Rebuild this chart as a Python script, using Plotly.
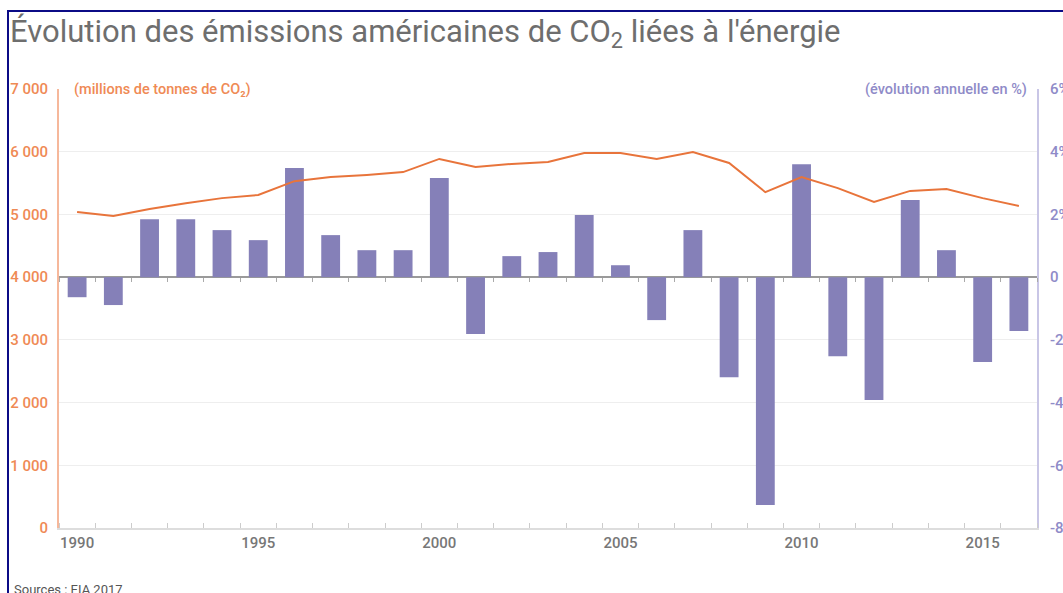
import plotly.graph_objects as go

years = list(range(1990, 2017))
emissions = [5040, 4975, 5085, 5180, 5260, 5310, 5530, 5595, 5630, 5675, 5885,
             5755, 5805, 5835, 5980, 5980, 5885, 5995, 5820, 5355, 5595, 5420,
             5200, 5375, 5405, 5260, 5135]
change_pct = [-0.64, -0.89, 1.85, 1.85, 1.50, 1.18, 3.48, 1.34, 0.86, 0.86, 3.16,
              -1.81, 0.67, 0.80, 1.98, 0.38, -1.37, 1.50, -3.19, -7.27, 3.60,
              -2.52, -3.92, 2.46, 0.86, -2.71, -1.72]
left_ticks = [0, 1000, 2000, 3000, 4000, 5000, 6000, 7000]
right_ticks = [-8, -6, -4, -2, 0, 2, 4, 6]
right_labels = ["-8%", "-6%", "-4%", "-2%", "0", "2%", "4%", "6%"]
x_labels = [1990, 1995, 2000, 2005, 2010, 2015]

W, H = 1063, 593
L, R, T, B = 59, 26, 89, 65
PW, PH = W - L - R, H - T - B


def px2x(px):
    return (px - L) / PW


def px2y(py):
    return (H - B - py) / PH


ORANGE_TXT = "#EF8A55"
ORANGE_LINE = "#E8743B"
PURPLE_BAR = "#8580B8"
PURPLE_TXT = "#8F8BC8"
FONT = "Roboto"

fig = go.Figure()
fig.add_trace(go.Bar(x=years, y=change_pct, width=0.52, marker_color=PURPLE_BAR,
                     marker_line_width=0, xaxis="x", yaxis="y", showlegend=False))
fig.add_trace(go.Scatter(x=years, y=emissions, mode="lines",
                         line=dict(color=ORANGE_LINE, width=2),
                         xaxis="x2", yaxis="y2", showlegend=False))

xr = [1989.5, 2016.5]
fig.update_layout(
    width=W, height=H, autosize=False,
    margin=dict(l=L, r=R, t=T, b=B, autoexpand=False),
    paper_bgcolor="white", plot_bgcolor="white",
    separators=". ",
    font=dict(family=FONT),
    title=dict(text="Évolution des émissions américaines de CO<sub>2</sub> liées à l'énergie",
               x=10 / W, xanchor="left", xref="container",
               y=1 - 31 / H, yanchor="middle", yref="container",
               font=dict(family=FONT, size=31, color="#6e6e6e")),
    xaxis=dict(range=xr, tickvals=x_labels, ticks="", showgrid=False,
               showline=True, linecolor="#dddddd", linewidth=1.5,
               zeroline=False, automargin=False,
               tickfont=dict(family=FONT, size=15, color="#777777", weight=500),
               minor=dict(tick0=1989.5, dtick=1, ticks="inside", ticklen=5,
                          tickcolor="#cccccc", showgrid=False)),
    xaxis2=dict(range=xr, overlaying="x", anchor="free", position=4 / 7,
                showticklabels=False, ticks="", showgrid=False, showline=False,
                zeroline=False, automargin=False,
                minor=dict(tick0=1989.5, dtick=1, ticks="outside", ticklen=4,
                           tickcolor="#aaaaaa", showgrid=False)),
    yaxis=dict(range=[-8, 6], side="right", tickvals=right_ticks, ticktext=right_labels,
               showgrid=True, gridcolor="#eeeeee", gridwidth=1,
               zeroline=True, zerolinecolor="#9a9a9a", zerolinewidth=2,
               showline=True, linecolor="#C9C6E6", linewidth=2, ticks="",
               ticklabelstandoff=8, automargin=False,
               tickfont=dict(family=FONT, size=15, color=PURPLE_TXT, weight=500)),
    yaxis2=dict(range=[0, 7000], side="left", overlaying="y", anchor="x",
                tickvals=left_ticks, tickformat=",", showgrid=False, zeroline=False,
                showline=True, linecolor="#F6B89B", linewidth=2, ticks="",
                ticklabelstandoff=6, automargin=False,
                tickfont=dict(family=FONT, size=15, color=ORANGE_TXT, weight=500)),
    shapes=[
        dict(type="rect", xref="paper", yref="paper", x0=px2x(61), x1=px2x(277),
             y0=px2y(95), y1=px2y(83), fillcolor="white", line=dict(width=0), layer="above"),
        dict(type="rect", xref="paper", yref="paper", x0=px2x(834), x1=px2x(1035),
             y0=px2y(95), y1=px2y(83), fillcolor="white", line=dict(width=0), layer="above"),
        dict(type="line", xref="paper", yref="paper", x0=px2x(8), x1=px2x(8),
             y0=px2y(600), y1=px2y(10), line=dict(color="#0b0b86", width=2)),
        dict(type="line", xref="paper", yref="paper", x0=px2x(7), x1=px2x(1070),
             y0=px2y(11), y1=px2y(11), line=dict(color="#0b0b86", width=2)),
    ],
    annotations=[
        dict(text="(millions de tonnes de CO₂)", x=px2x(72), y=1, xref="paper", yref="paper",
             xanchor="left", yanchor="middle", showarrow=False,
             font=dict(family=FONT, size=14.5, color=ORANGE_TXT, weight=500)),
        dict(text="(évolution annuelle en %)", x=px2x(1029), y=1, xref="paper", yref="paper",
             xanchor="right", yanchor="middle", showarrow=False,
             font=dict(family=FONT, size=14.5, color=PURPLE_TXT, weight=500)),
        dict(text="Sources : EIA 2017", x=px2x(12), y=px2y(589), xref="paper", yref="paper",
             xanchor="left", yanchor="middle", showarrow=False,
             font=dict(family=FONT, size=13, color="#555555")),
    ],
)

fig.write_html("out.html", config={"responsive": False, "displayModeBar": False},
               post_script="document.body.style.margin='0';document.body.style.overflow='hidden';")
